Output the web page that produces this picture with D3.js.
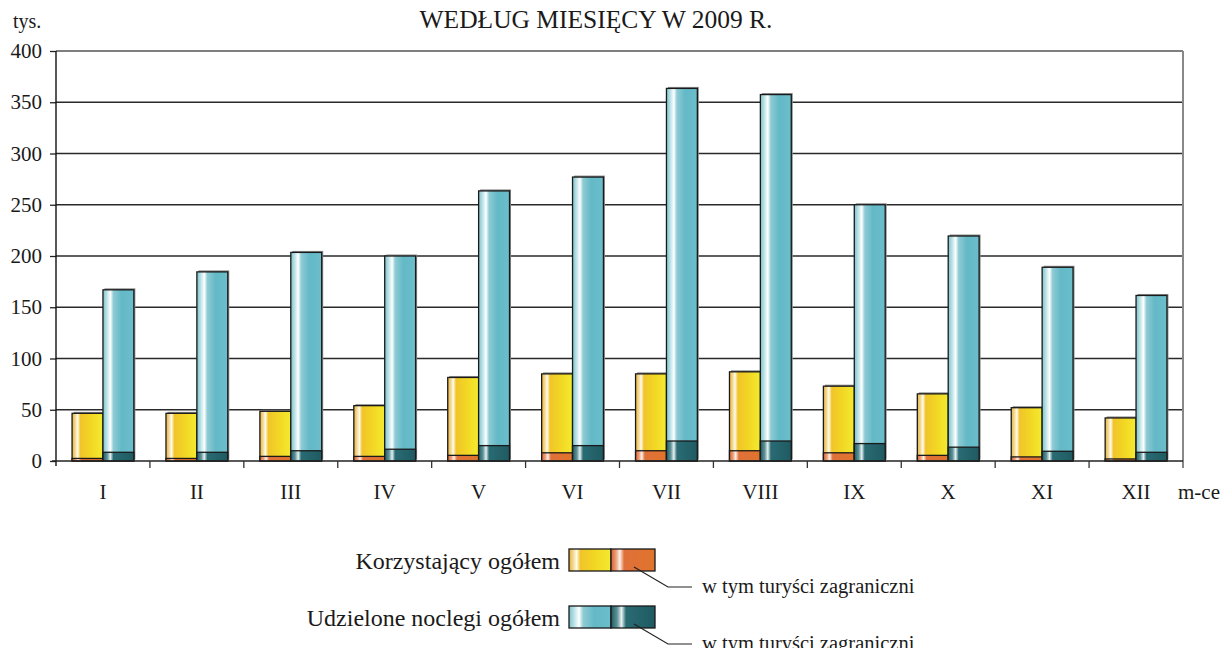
<!DOCTYPE html>
<html>
<head>
<meta charset="utf-8">
<script src="https://cdn.jsdelivr.net/npm/d3@7"></script>
<style>
  body { margin: 0; background: #fff; }
  svg text { font-family: "Liberation Serif", "DejaVu Serif", serif; fill: #1a1a1a; }
</style>
</head>
<body>
<svg id="chart" width="1221" height="648"></svg>
<script>
// miesiace i wartosci (tys.)
var months = ["I", "II", "III", "IV", "V", "VI", "VII", "VIII", "IX", "X", "XI", "XII"];
var korzystajacy = [46.5, 46.5, 48.5, 54, 81.5, 85, 85, 87, 73, 65.5, 52, 42];
var korzystajacyZagr = [2.5, 2.5, 4.5, 4.5, 5.5, 8, 10, 10, 8, 5.5, 4, 2];
var noclegi = [167, 184.5, 203.5, 200, 263.5, 277, 363.5, 357.5, 250, 219.5, 189, 161.5];
var noclegiZagr = [8.5, 8.5, 10, 11.5, 15, 15, 19.5, 19.5, 17, 13.5, 9.5, 8.5];
var yTicks = [0, 50, 100, 150, 200, 250, 300, 350, 400];
var legendLabels = ["Korzystający ogółem", "Udzielone noclegi ogółem"];
var legendSub = "w tym turyści zagraniczni";

var svg = d3.select("#chart");
var pLeft = 56, pRight = 1183, pTop = 51, pBottom = 461;

var y = d3.scaleLinear().domain([0, 400]).range([pBottom, pTop]);
var x = d3.scaleBand().domain(months).range([pLeft, pRight]);
var xs = d3.scaleBand().domain(["k", "n"]).range([0, x.bandwidth()]).paddingOuter(0.52);

// gradienty
var defs = svg.append("defs");
function grad(id, stops) {
  var g = defs.append("linearGradient").attr("id", id)
    .attr("x1", "0%").attr("x2", "100%").attr("y1", "0%").attr("y2", "0%");
  stops.forEach(function(s) {
    g.append("stop").attr("offset", s[0]).attr("stop-color", s[1]);
  });
}
grad("gYellow", [[0, "#e9b43a"], [0.1, "#f3d890"], [0.18, "#fffbf0"], [0.27, "#f1c42a"], [0.6, "#f2d624"], [1, "#f4ea2e"]]);
grad("gOrange", [[0, "#d8622e"], [0.12, "#eea27e"], [0.2, "#fff2ea"], [0.3, "#e0703a"], [1, "#e0742c"]]);
grad("gTeal", [[0, "#7ac3cb"], [0.14, "#c4e6ea"], [0.24, "#ffffff"], [0.34, "#8ecbd4"], [0.6, "#64b9c7"], [1, "#6bbecc"]]);
grad("gDark", [[0, "#1e5b63"], [0.14, "#5e9298"], [0.24, "#e6f2f2"], [0.34, "#2a6b73"], [1, "#1f5a62"]]);

// siatka
svg.append("g")
  .selectAll("line")
  .data(yTicks.slice(1))
  .enter().append("line")
  .attr("x1", pLeft).attr("x2", pRight)
  .attr("y1", function(d) { return y(d); })
  .attr("y2", function(d) { return y(d); })
  .attr("stroke", function(d) { return d == 400 ? "#555" : "#2a2a2a"; })
  .attr("stroke-width", 1.4);

// os Y
var yAxis = svg.append("g")
  .attr("transform", "translate(" + pLeft + ",0)")
  .call(d3.axisLeft(y).tickValues(yTicks).tickSize(6).tickPadding(8));
yAxis.select(".domain").remove();
yAxis.selectAll(".tick line").attr("stroke", "#222").attr("stroke-width", 1.3);
yAxis.selectAll("text").style("font-size", "21px").attr("fill", "#1a1a1a")
  .attr("font-family", "Liberation Serif, serif");
svg.append("line").attr("x1", pLeft).attr("x2", pLeft).attr("y1", pTop).attr("y2", pBottom + 5)
  .attr("stroke", "#111").attr("stroke-width", 1.4);
svg.append("line").attr("x1", pRight).attr("x2", pRight).attr("y1", pTop).attr("y2", pBottom + 7)
  .attr("stroke", "#888").attr("stroke-width", 2);

// slupki
var series = [
  { key: "k", vals: korzystajacy, fill: "url(#gYellow)", shadow: true },
  { key: "k", vals: korzystajacyZagr, fill: "url(#gOrange)", shadow: false },
  { key: "n", vals: noclegi, fill: "url(#gTeal)", shadow: true },
  { key: "n", vals: noclegiZagr, fill: "url(#gDark)", shadow: false }
];
var groups = svg.append("g").selectAll("g")
  .data(months)
  .enter().append("g")
  .attr("transform", function(d) { return "translate(" + x(d) + ",0)"; });

groups.each(function(m, i) {
  var g = d3.select(this);
  series.forEach(function(s) {
    var v = s.vals[i];
    if (s.shadow) {
      g.append("rect")
        .attr("x", xs(s.key) + 1.5).attr("y", y(v) - 1.5)
        .attr("width", xs.bandwidth()).attr("height", y(0) - y(v))
        .attr("fill", "#8a8a8a");
    }
    g.append("rect")
      .attr("x", xs(s.key)).attr("y", y(v))
      .attr("width", xs.bandwidth()).attr("height", y(0) - y(v))
      .attr("fill", s.fill).attr("stroke", "#1a1a1a").attr("stroke-width", 1.3);
  });
});

// os X
svg.append("line").attr("x1", pLeft - 4).attr("x2", pRight).attr("y1", pBottom).attr("y2", pBottom)
  .attr("stroke", "#222").attr("stroke-width", 1.4);
svg.append("g").selectAll("line")
  .data(months.slice(1))
  .enter().append("line")
  .attr("x1", function(d) { return x(d); })
  .attr("x2", function(d) { return x(d); })
  .attr("y1", pBottom).attr("y2", pBottom + 7)
  .attr("stroke", "#333").attr("stroke-width", 1.3);
svg.append("g").selectAll("text")
  .data(months)
  .enter().append("text")
  .attr("x", function(d) { return x(d) + x.bandwidth() / 2; })
  .attr("y", 499)
  .attr("text-anchor", "middle")
  .style("font-size", "21px")
  .text(function(d) { return d; });
svg.append("text").attr("x", 1178).attr("y", 499).style("font-size", "21px").text("m-ce");

// tytul
svg.append("text").attr("x", 596).attr("y", 28).attr("text-anchor", "middle")
  .style("font-size", "25.5px").text("WEDŁUG MIESIĘCY W 2009 R.");
svg.append("text").attr("x", 13).attr("y", 28).style("font-size", "20px").text("tys.");

// legenda
var legend = [
  { label: legendLabels[0], fills: ["url(#gYellow)", "url(#gOrange)"], y: 549 },
  { label: legendLabels[1], fills: ["url(#gTeal)", "url(#gDark)"], y: 606 }
];
legend.forEach(function(l) {
  var g = svg.append("g");
  g.append("text").attr("x", 560).attr("y", l.y + 20).attr("text-anchor", "end")
    .style("font-size", "24px").text(l.label);
  g.append("rect").attr("x", 569).attr("y", l.y).attr("width", 42).attr("height", 22)
    .attr("fill", l.fills[0]).attr("stroke", "#1a1a1a").attr("stroke-width", 1.3);
  g.append("rect").attr("x", 611).attr("y", l.y).attr("width", 44).attr("height", 22)
    .attr("fill", l.fills[1]).attr("stroke", "#1a1a1a").attr("stroke-width", 1.3);
  g.append("polyline")
    .attr("points", "634," + (l.y + 18) + " 668," + (l.y + 38) + " 692," + (l.y + 38))
    .attr("fill", "none").attr("stroke", "#222").attr("stroke-width", 1.2);
  g.append("text").attr("x", 702).attr("y", l.y + 44).style("font-size", "20.5px").text(legendSub);
});
</script>
</body>
</html>
